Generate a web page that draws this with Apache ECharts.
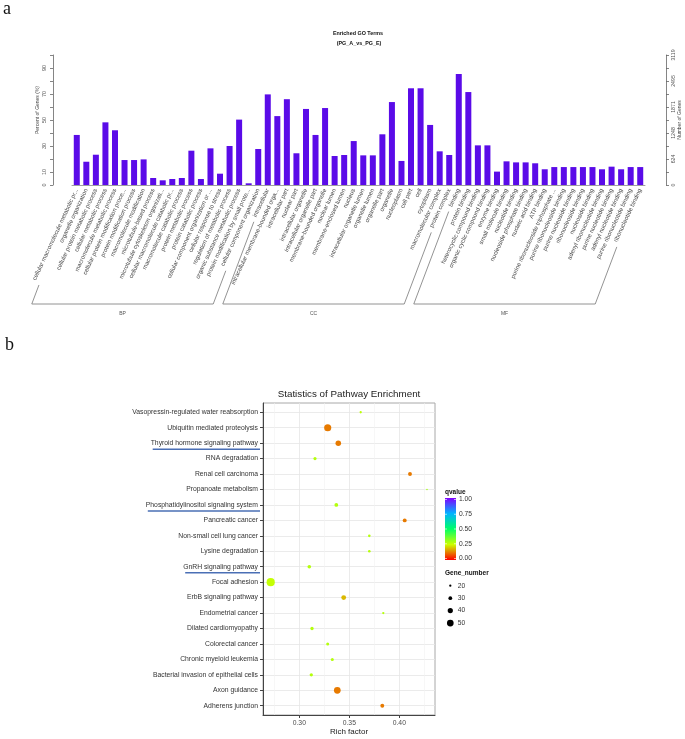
<!DOCTYPE html>
<html><head><meta charset="utf-8">
<script src="https://cdn.jsdelivr.net/npm/echarts@6/dist/echarts.min.js"></script>
<style>html,body{margin:0;padding:0;background:#fff}#c{width:685px;height:739px}</style>
</head><body><div id="c"></div>
<script>
// ---------- Panel a: GO terms ----------
const goGroups = ['BP', 'CC', 'MF'];
const goGroupSizes = [20, 20, 20];
const goTerms = [
  'cellular macromolecule metabolic pr...', 'organelle organization', 'cellular protein metabolic process',
  'cellular metabolic process', 'macromolecule metabolic process', 'cellular protein modification proce...',
  'protein modification process', 'macromolecule modification', 'microtubule-based process',
  'microtubule cytoskeleton organizati...', 'cellular macromolecule catabolic pr...', 'macromolecule catabolic process',
  'protein metabolic process', 'protein catabolic process', 'cellular component organization or ...',
  'cellular response to stress', 'regulation of metabolic process', 'organic substance metabolic process',
  'protein modification by small prote...', 'cellular component organization',
  'intracellular', 'intracellular membrane-bounded orga...', 'intracellular part', 'nuclear part',
  'intracellular organelle', 'intracellular organelle part', 'membrane-bounded organelle', 'nuclear lumen',
  'membrane-enclosed lumen', 'nucleus', 'intracellular organelle lumen', 'organelle lumen', 'organelle part',
  'organelle', 'nucleoplasm', 'cell part', 'cell', 'cytoplasm', 'macromolecular complex', 'protein complex',
  'binding', 'protein binding', 'heterocyclic compound binding', 'organic cyclic compound binding',
  'enzyme binding', 'small molecule binding', 'nucleotide binding', 'nucleoside phosphate binding',
  'nucleic acid binding', 'ATP binding', 'purine ribonucleoside triphosphate ...', 'purine ribonucleoside binding',
  'purine nucleoside binding', 'ribonucleoside binding', 'nucleoside binding', 'adenyl ribonucleotide binding',
  'purine nucleotide binding', 'adenyl nucleotide binding', 'purine ribonucleotide binding', 'ribonucleotide binding'
];
const goPercent = [
  38.5, 17.9, 23.3, 48.2, 42.1, 19.2, 19.2, 19.7, 5.4, 3.6, 4.6, 5.4, 26.4, 4.6, 28.2, 8.7, 30.0, 50.3, 1.3, 27.7,
  69.7, 53.0, 66.0, 24.4, 58.5, 38.5, 59.2, 22.3, 23.1, 33.8, 22.8, 22.8, 39.0, 63.8, 18.5, 74.4, 74.4, 46.2, 25.9, 23.1,
  85.4, 71.5, 30.5, 30.5, 10.3, 18.2, 17.4, 17.4, 16.7, 12.1, 13.8, 13.8, 13.8, 13.8, 13.8, 12.1, 14.1, 12.1, 13.8, 13.8
];
const percentLabels = [0, 10, 30, 50, 70, 90];
const totalGenes = 3119;
const geneLabels = [0, 624, 1248, 1871, 2495, 3119];

// ---------- Panel b: KEGG pathways ----------
const pathways = [
  'Vasopressin-regulated water reabsorption', 'Ubiquitin mediated proteolysis', 'Thyroid hormone signaling pathway',
  'RNA degradation', 'Renal cell carcinoma', 'Propanoate metabolism', 'Phosphatidylinositol signaling system',
  'Pancreatic cancer', 'Non-small cell lung cancer', 'Lysine degradation', 'GnRH signaling pathway',
  'Focal adhesion', 'ErbB signaling pathway', 'Endometrial cancer', 'Dilated cardiomyopathy',
  'Colorectal cancer', 'Chronic myeloid leukemia', 'Bacterial invasion of epithelial cells',
  'Axon guidance', 'Adherens junction'
];
const richFactor = [0.3614, 0.3284, 0.339, 0.3157, 0.4107, 0.4277, 0.337, 0.4054, 0.370, 0.370,
  0.310, 0.2714, 0.3444, 0.384, 0.3127, 0.3284, 0.333, 0.312, 0.338, 0.383];
const geneNumber = [20, 53, 42, 26, 31, 15, 30, 31, 22, 22, 29, 60, 37, 20, 27, 25, 25, 27, 50, 31];
const qValue = [0.27, 0.12, 0.12, 0.28, 0.12, 0.30, 0.28, 0.12, 0.28, 0.28, 0.28, 0.26, 0.18, 0.28, 0.28,
  0.28, 0.28, 0.28, 0.12, 0.12];
const underlined = ['Thyroid hormone signaling pathway', 'Phosphatidylinositol signaling system', 'GnRH signaling pathway'];
const richTicks = [0.30, 0.35, 0.40];
const richMinor = [0.275, 0.325, 0.375, 0.425];
const qLegendTicks = [1.00, 0.75, 0.50, 0.25, 0.00];
const geneLegend = [20, 30, 40, 50];
const qColors = ['#ff0000', '#ccff00', '#00ff66', '#00b3ff', '#8000ff'];

function dotSize(n) { return 2.3 + (n - 20) * 0.147; }
const FONT = '"Liberation Sans", Arial, sans-serif';

const chart = echarts.init(document.getElementById('c'));
const option = {
  animation: false,
  backgroundColor: '#fff',
  grid: [
    { left: 72, top: 55, width: 573, height: 130 },
    { left: 263, top: 403, width: 172, height: 312, show: true, borderColor: '#a8a8a8', borderWidth: 1 }
  ],
  xAxis: [
    {
      type: 'category', gridIndex: 0, data: goTerms,
      axisLine: { lineStyle: { color: '#888', width: 0.8 } },
      axisTick: { alignWithLabel: true, length: 3, lineStyle: { color: '#888', width: 0.8 } },
      axisLabel: { interval: 0, rotate: 65, fontSize: 6, margin: 4, color: '#444', fontFamily: FONT }
    },
    {
      type: 'value', gridIndex: 1, min: 0.2637, max: 0.4357, position: 'bottom',
      axisLine: { show: true, onZero: false, lineStyle: { color: '#444' } },
      axisTick: { show: true, customValues: richTicks, length: 3, lineStyle: { color: '#444' } },
      axisLabel: { customValues: richTicks, formatter: v => v.toFixed(2), fontSize: 6.8, color: '#4d4d4d', margin: 5, fontFamily: FONT },
      splitLine: { show: true, lineStyle: { color: '#e6e6e6', width: 0.8 } },
      name: 'Rich factor', nameLocation: 'middle', nameGap: 13,
      nameTextStyle: { fontSize: 8, color: '#222', fontFamily: FONT }
    },
    {
      type: 'value', gridIndex: 1, min: 0.2637, max: 0.4357, position: 'bottom',
      axisLine: { show: false, onZero: false },
      axisTick: { show: false, customValues: richMinor },
      axisLabel: { show: false },
      splitLine: { show: true, lineStyle: { color: '#f2f2f2', width: 0.6 } }
    }
  ],
  yAxis: [
    {
      type: 'value', gridIndex: 0, position: 'left', offset: 19, min: 0, max: 100, interval: 10,
      axisLine: { show: true, lineStyle: { color: '#666', width: 0.8 } },
      axisTick: { show: true, length: 3, lineStyle: { color: '#666', width: 0.8 } },
      axisLabel: { rotate: 90, fontSize: 5.5, color: '#555', margin: 6, fontFamily: FONT,
        formatter: v => percentLabels.indexOf(Math.round(v)) >= 0 ? String(Math.round(v)) : '' },
      splitLine: { show: false }
    },
    {
      type: 'value', gridIndex: 0, position: 'right', offset: 21, min: 0, max: totalGenes, interval: totalGenes / 10,
      axisLine: { show: true, lineStyle: { color: '#666', width: 0.8 } },
      axisTick: { show: true, length: 3, lineStyle: { color: '#666', width: 0.8 } },
      axisLabel: { rotate: 90, fontSize: 5.2, color: '#555', margin: 5, fontFamily: FONT,
        formatter: v => { const r = Math.round(v); return geneLabels.indexOf(r) >= 0 ? String(r) : ''; } },
      splitLine: { show: false }
    },
    {
      type: 'value', gridIndex: 1, inverse: true, min: -0.6, max: pathways.length - 0.4, position: 'left',
      axisLine: { show: true, onZero: false, lineStyle: { color: '#444' } },
      axisTick: { show: true, customValues: pathways.map((p, i) => i), length: 3, lineStyle: { color: '#444' } },
      axisLabel: { customValues: pathways.map((p, i) => i), formatter: v => pathways[Math.round(v)] || '',
        fontSize: 6.8, color: '#333', margin: 5, fontFamily: FONT },
      splitLine: { show: true, lineStyle: { color: '#e6e6e6', width: 0.8 } }
    }
  ],
  visualMap: {
    show: false, type: 'continuous', seriesIndex: 1, dimension: 3, min: 0, max: 1,
    inRange: { color: qColors }
  },
  series: [
    {
      type: 'bar', xAxisIndex: 0, yAxisIndex: 0, data: goPercent, barWidth: 6,
      itemStyle: { color: '#5a0be8' }
    },
    {
      type: 'scatter', xAxisIndex: 1, yAxisIndex: 2,
      data: pathways.map((p, i) => [richFactor[i], i, geneNumber[i], qValue[i]]),
      symbolSize: d => dotSize(d[2]),
      itemStyle: { opacity: 1 }
    }
  ]
};
chart.setOption(option);

// ---------- annotations derived from the axes ----------
const ctx = document.createElement('canvas').getContext('2d');
const g = [];
const txt = (x, y, s, size, extra) => Object.assign({ type: 'text', x, y, style: Object.assign({
  text: s, fontSize: size, fontFamily: FONT, fill: '#222', align: 'center', verticalAlign: 'middle' }, extra || {}) });

g.push(txt(3, 9, 'a', 18, { fontFamily: '"Liberation Serif", serif', align: 'left', fill: '#111' }));
g.push(txt(5, 345, 'b', 18, { fontFamily: '"Liberation Serif", serif', align: 'left', fill: '#111' }));
g.push(txt(358, 34, 'Enriched GO Terms', 5.4, { fontWeight: 'bold', fill: '#111' }));
g.push(txt(359, 44, '(PG_A_vs_PG_E)', 5.4, { fontWeight: 'bold', fill: '#111' }));
g.push(Object.assign(txt(38, 110, 'Percent of Genes (%)', 5, { fill: '#444' }), { rotation: Math.PI / 2 }));
g.push(Object.assign(txt(680, 120, 'Number of Genes', 5, { fill: '#444' }), { rotation: Math.PI / 2 }));

// group brackets under the GO term labels
ctx.font = '6px "Liberation Sans"';
const axisY = chart.convertToPixel({ yAxisIndex: 0 }, 0);
const sin65 = Math.sin(65 * Math.PI / 180);
const tanB = Math.tan(69.3 * Math.PI / 180);
const yb = axisY + 119;
let start = 0;
goGroups.forEach((name, gi) => {
  const i0 = start, i1 = start + goGroupSizes[gi] - 1;
  start += goGroupSizes[gi];
  const x0 = chart.convertToPixel({ xAxisIndex: 0 }, i0);
  const x1 = chart.convertToPixel({ xAxisIndex: 0 }, i1);
  const bl = x0 - 45, br = x1 - 45;
  const topL = Math.min(yb - 6, axisY + 4 + ctx.measureText(goTerms[i0]).width * sin65 + 5);
  const topR = Math.min(yb - 6, axisY + 4 + ctx.measureText(goTerms[i1]).width * sin65 + 5);
  g.push({ type: 'polyline', shape: { points: [[bl + (yb - topL) / tanB, topL], [bl, yb], [br, yb], [br + (yb - topR) / tanB, topR]] },
    style: { stroke: '#777', lineWidth: 0.8, fill: null } });
  g.push(txt((bl + br) / 2, yb + 10, name, 5, { fill: '#555' }));
});

// panel b title
g.push(txt(349, 394, 'Statistics of Pathway Enrichment', 9.8, { fill: '#222' }));

// underlines under highlighted pathways
ctx.font = '6.8px "Liberation Sans"';
underlined.forEach(name => {
  const i = pathways.indexOf(name);
  const y = chart.convertToPixel({ yAxisIndex: 2 }, i) + 6;
  const right = 263 - 5;
  const left = right - ctx.measureText(name).width + 2;
  g.push({ type: 'line', shape: { x1: left, y1: y, x2: 260, y2: y }, style: { stroke: '#4a6fb5', lineWidth: 1.5 } });
});

// qvalue legend
g.push(txt(445, 492, 'qvalue', 6.5, { fontWeight: 'bold', align: 'left', fill: '#111' }));
const barTop = 498, barH = 62;
g.push({ type: 'rect', shape: { x: 445, y: barTop, width: 11, height: barH },
  style: { fill: new echarts.graphic.LinearGradient(0, 0, 0, 1,
    qColors.slice().reverse().map((c, k) => ({ offset: k / (qColors.length - 1), color: c }))) } });
qLegendTicks.forEach(v => {
  const y = barTop + 1.5 + (1 - v) * (barH - 3);
  g.push({ type: 'line', shape: { x1: 445, y1: y, x2: 447, y2: y }, style: { stroke: '#fff', lineWidth: 0.6 } });
  g.push({ type: 'line', shape: { x1: 454, y1: y, x2: 456, y2: y }, style: { stroke: '#fff', lineWidth: 0.6 } });
  g.push(txt(459, y, v.toFixed(2), 6.7, { align: 'left', fill: '#333' }));
});
// Gene_number legend
g.push(txt(445, 573, 'Gene_number', 6.5, { fontWeight: 'bold', align: 'left', fill: '#111' }));
geneLegend.forEach((n, k) => {
  const y = 585.7 + k * 12.45;
  g.push({ type: 'circle', shape: { cx: 450.3, cy: y, r: dotSize(n) / 2 }, style: { fill: '#000' } });
  g.push(txt(457.7, y, String(n), 6.7, { align: 'left', fill: '#333' }));
});

chart.setOption({ graphic: g });
</script></body></html>
